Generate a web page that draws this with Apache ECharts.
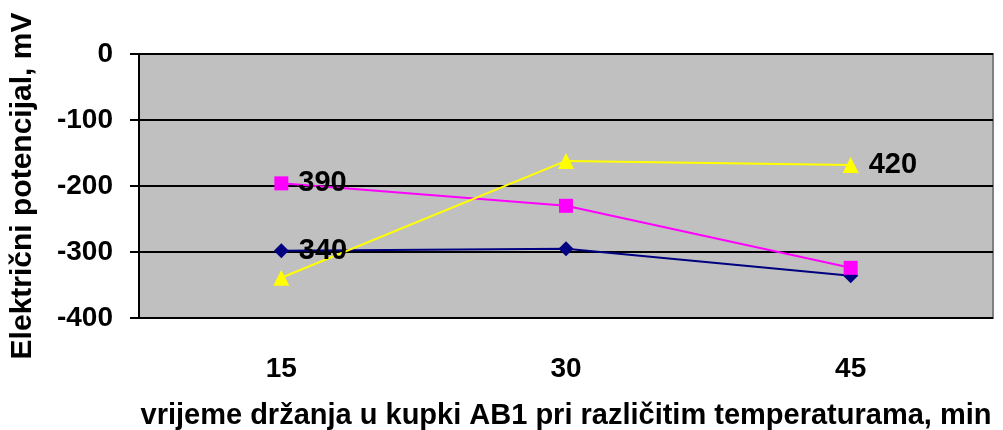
<!DOCTYPE html>
<html>
<head>
<meta charset="utf-8">
<script src="https://cdn.jsdelivr.net/npm/echarts@6/dist/echarts.min.js"></script>
<style>
  html, body { margin: 0; padding: 0; background: #fff; }
  #chart { width: 1003px; height: 430px; }
</style>
</head>
<body>
<div id="chart"></div>
<script>
const categories = ['15', '30', '45'];
const seriesNames = ['340', '390', '420'];
const s340 = [-298, -295, -336];
const s390 = [-196, -230, -324];
const s420 = [-339, -162, -168];
// which point carries the series name label
const labelAt = [0, 0, 2];

const font = 'Liberation Sans, Arial, sans-serif';
const chart = echarts.init(document.getElementById('chart'));

const makeData = (vals, idx) => vals.map((v, i) => i === idx
  ? {value: v, label: {show: true}}
  : v);

const styles = [
  {color: '#000080', symbol: 'diamond', size: 15},
  {color: '#ff00ff', symbol: 'rect', size: 14},
  {color: '#ffff00', symbol: 'triangle', size: 16}
];
const values = [s340, s390, s420];

const option = {
  animation: false,
  grid: {
    left: 139, right: 10, top: 54, bottom: 112,
    outerBoundsMode: 'none',
    containLabel: false,
    show: true,
    backgroundColor: '#c0c0c0',
    borderColor: '#808080',
    borderWidth: 2
  },
  xAxis: {
    type: 'category',
    data: categories,
    name: 'vrijeme držanja u kupki AB1 pri različitim temperaturama, min',
    nameLocation: 'middle',
    nameGap: 83,
    nameTextStyle: {fontFamily: font, fontWeight: 'bold', fontSize: 29, color: '#000'},
    axisLine: {show: false},
    axisTick: {show: false},
    axisLabel: {margin: 37, fontFamily: font, fontWeight: 'bold', fontSize: 28, color: '#000'},
    splitLine: {show: false}
  },
  yAxis: {
    type: 'value',
    min: -400, max: 0, interval: 100,
    name: 'Električni potencijal, mV',
    nameLocation: 'middle',
    nameGap: 101,
    nameTextStyle: {fontFamily: font, fontWeight: 'bold', fontSize: 30, color: '#000'},
    axisLine: {show: true, lineStyle: {color: '#000', width: 2}},
    axisTick: {show: true, length: 9, lineStyle: {color: '#000', width: 2}},
    axisLabel: {margin: 26, fontFamily: font, fontWeight: 'bold', fontSize: 28, color: '#000'},
    splitLine: {show: true, lineStyle: {color: '#000', width: 2}}
  },
  series: seriesNames.map((name, k) => ({
    name: name,
    type: 'line',
    data: makeData(values[k], labelAt[k]),
    symbol: styles[k].symbol,
    symbolSize: styles[k].size,
    lineStyle: {color: styles[k].color, width: 2},
    itemStyle: {color: styles[k].color},
    label: {
      show: false,
      position: 'right',
      distance: 10,
      formatter: '{a}',
      fontFamily: font,
      fontWeight: 'bold',
      fontSize: 29,
      color: '#000'
    }
  }))
};

chart.setOption(option);
</script>
</body>
</html>
